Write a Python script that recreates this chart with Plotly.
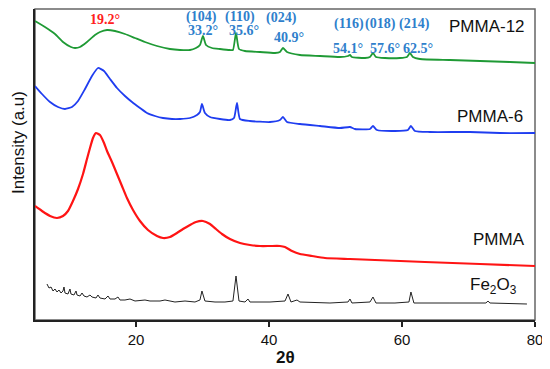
import plotly.graph_objects as go

# ---- data (2θ in degrees, intensity in arbitrary units, offset stacked) ----
pmma12_x = [4.80, 6.30, 7.81, 9.01, 10.21, 10.82, 11.57, 12.62, 13.82, 14.57, 15.63, 16.83, 18.33, 19.84,
            21.34, 23.15, 25.10, 26.61, 28.11, 29.01, 29.61, 30.06, 30.52, 31.42, 32.62, 34.12, 34.57, 35.03,
            35.48, 36.38, 38.64, 40.89, 41.64, 42.09, 42.70, 44.65, 47.66, 50.67, 51.87, 52.17, 52.47, 54.43,
            55.18, 55.63, 56.08, 57.43, 59.69, 60.74, 61.19, 61.64, 62.70, 67.21, 71.72, 76.23, 80.00]
pmma12_y = [299, 293, 286, 278, 273, 272, 273, 278, 285, 288, 290, 289, 286, 282,
            278, 274, 271, 270, 270, 272, 275, 284, 275, 272, 271, 270, 270, 287,
            271, 269, 268, 267, 268, 272, 268, 265, 264, 263, 264, 265, 263, 262,
            263, 267, 263, 262, 262, 263, 267, 263, 261, 260, 259, 258, 257]

pmma6_x = [4.80, 5.85, 7.06, 8.26, 9.31, 10.36, 11.27, 12.32, 13.37, 14.27, 15.18, 16.08, 17.13, 18.33,
           19.39, 20.59, 21.64, 22.85, 24.05, 25.40, 26.61, 28.11, 29.16, 29.61, 29.91, 30.36, 31.12, 32.62,
           34.12, 34.73, 35.18, 35.63, 37.13, 40.14, 41.64, 42.09, 42.70, 44.65, 47.66, 50.67, 52.17, 52.92,
           55.18, 55.63, 56.23, 58.94, 60.89, 61.34, 61.94, 64.20, 70.21, 74.73, 80.00]
pmma6_y = [234, 226, 218, 213, 211, 213, 219, 231, 244, 252, 249, 241, 232, 224,
           218, 212, 207, 204, 202, 201, 201, 202, 205, 208, 216, 207, 203, 201,
           200, 202, 217, 201, 199, 198, 200, 203, 198, 196, 194, 192, 193, 191,
           191, 194, 190, 189, 190, 194, 189, 188, 188, 187, 187]

pmma_x = [4.80, 5.85, 7.06, 8.11, 9.01, 9.76, 10.51, 11.27, 12.02, 12.62, 13.07, 13.52, 13.97, 14.57,
          15.18, 15.63, 16.38, 17.13, 17.88, 18.63, 19.54, 20.59, 21.79, 23.15, 24.05, 25.10, 26.15, 27.06,
          28.11, 29.01, 30.06, 31.12, 32.02, 32.92, 34.12, 35.63, 37.13, 38.64, 40.14, 41.64, 42.40, 43.45,
          44.65, 46.45, 48.41, 52.17, 55.93, 63.45, 71.72, 80.00]
pmma_y = [114, 109, 104, 102, 104, 109, 119, 131, 146, 161, 172, 182, 187, 185,
          177, 169, 158, 146, 134, 122, 110, 99, 90, 84, 82, 83, 87, 91,
          95, 98, 99, 96, 91, 86, 81, 77, 75, 74, 74, 74, 73, 69,
          66, 64, 62, 61, 60, 58, 56, 54]

fe2o3_x = [6.60, 6.91, 7.21, 7.51, 7.81, 8.11, 8.41, 8.71, 9.01, 9.16, 9.31, 9.76, 10.06, 10.21, 10.66,
           10.97, 11.12, 11.57, 11.87, 12.17, 12.62, 13.07, 13.37, 13.97, 14.27, 14.57, 15.33, 15.78, 16.08,
           16.83, 17.28, 17.58, 18.33, 19.09, 19.84, 21.34, 22.09, 23.60, 24.35, 25.85, 27.36, 28.86, 29.61,
           29.91, 30.36, 31.87, 33.37, 34.57, 35.03, 35.48, 36.38, 36.83, 37.13, 40.14, 42.40, 42.85, 43.30,
           44.20, 44.65, 49.16, 51.87, 52.17, 52.47, 55.18, 55.63, 56.08, 58.94, 61.04, 61.34, 61.79, 67.21,
           72.62, 72.92, 73.22, 78.79]
fe2o3_y = [36, 32, 33, 29, 31, 28, 30, 27, 29, 33, 27, 26, 31, 26, 25,
           29, 25, 24, 27, 24, 23, 25, 23, 22, 25, 22, 21, 24, 21,
           21, 23, 20, 20, 21, 19, 20, 19, 19, 20, 18, 19, 18, 20,
           29, 19, 18, 18, 19, 44, 19, 18, 21, 18, 18, 19, 26, 18,
           20, 18, 17, 18, 21, 17, 18, 23, 17, 17, 18, 28, 17, 17,
           17, 19, 17, 16]

series_names = ["PMMA-12", "PMMA-6", "PMMA", "Fe2O3"]
series_labels = ["PMMA-12", "PMMA-6", "PMMA", "Fe<sub>2</sub>O<sub>3</sub>"]
label_x = [72.8, 73.2, 74.6, 73.8]
label_y = [294, 204, 81, 34]

peak_hkl = ["(104)", "(110)", "(024)", "(116)", "(018)", "(214)"]
peak_hkl_x = [29.91, 35.63, 41.94, 52.02, 56.83, 61.94]
peak_hkl_y = [303, 303, 302, 296, 296, 296]
peak_deg = ["33.2°", "35.6°", "40.9°", "54.1°", "57.6°", "62.5°"]
peak_deg_x = [30.06, 36.23, 43.0, 51.87, 57.43, 62.39]
peak_deg_y = [290, 290, 283, 272, 272, 272]
amorph_label = "19.2°"
amorph_x, amorph_y = 15.33, 301

x_ticks = [20, 40, 60, 80]

# ---- figure ----
fig = go.Figure()
styles = [("#1f9a35", 1.8, "spline"), ("#1f3df0", 1.8, "spline"),
          ("#ff1414", 2.2, "spline"), ("#222222", 1.0, "linear")]
data = [(pmma12_x, pmma12_y), (pmma6_x, pmma6_y), (pmma_x, pmma_y), (fe2o3_x, fe2o3_y)]
for (xs, ys), name, (col, w, shp) in zip(data, series_names, styles):
    line = dict(color=col, width=w, shape=shp)
    if shp == "spline":
        line["smoothing"] = 0.5
    fig.add_trace(go.Scatter(x=xs, y=ys, mode="lines", name=name, line=line, showlegend=False))

sans = "Liberation Sans, Arial, sans-serif"
serif = "Liberation Serif, Times New Roman, serif"
for t, x, y in zip(series_labels, label_x, label_y):
    fig.add_annotation(x=x, y=y, text=t, showarrow=False, font=dict(family=sans, size=17, color="#111"))
blue = "#2f7fcc"
for t, x, y in zip(peak_hkl, peak_hkl_x, peak_hkl_y):
    fig.add_annotation(x=x, y=y, text="<b>%s</b>" % t, showarrow=False,
                       font=dict(family=serif, size=14, color=blue))
for t, x, y in zip(peak_deg, peak_deg_x, peak_deg_y):
    fig.add_annotation(x=x, y=y, text="<b>%s</b>" % t, showarrow=False,
                       font=dict(family=serif, size=14, color=blue))
fig.add_annotation(x=amorph_x, y=amorph_y, text="<b>%s</b>" % amorph_label, showarrow=False,
                   font=dict(family=serif, size=14, color="#ff2020"))

# axis titles
fig.add_annotation(xref="paper", yref="paper", x=-0.034, y=0.569, xanchor="center", yanchor="middle",
                   text="Intensity (a.u)", textangle=-90, showarrow=False,
                   font=dict(family=sans, size=17, color="#111"))
fig.add_annotation(xref="paper", yref="paper", x=0.5, y=-0.119, xanchor="center", yanchor="middle",
                   text="<b>2θ</b>", showarrow=False, font=dict(family=sans, size=17, color="#111"))

# thin grey top/right frame
fig.add_shape(type="rect", xref="paper", yref="paper", x0=0, y0=0, x1=1, y1=1,
              line=dict(color="#666", width=1.5), layer="below")

# page body has an 8px margin, so the figure is offset by 8px
fig.update_layout(
    width=542, height=361,
    margin=dict(l=27, r=15, t=1, b=49),
    paper_bgcolor="white", plot_bgcolor="white",
    font=dict(family=sans, color="#111"),
)
fig.update_xaxes(range=[4.8, 80], tickvals=x_ticks, ticks="outside", ticklen=5, tickwidth=1.5,
                 tickcolor="#222", showline=True, linecolor="#222", linewidth=2, showgrid=False,
                 zeroline=False, tickfont=dict(size=15, color="#111"), automargin=False)
fig.update_yaxes(range=[0, 311], showticklabels=False, ticks="", showline=True, linecolor="#222",
                 linewidth=2, showgrid=False, zeroline=False, automargin=False)

fig.write_html("out.html")
